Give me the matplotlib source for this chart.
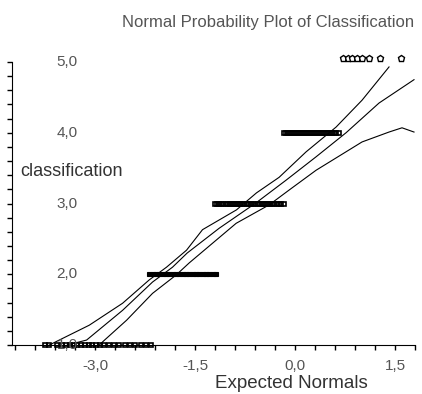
import matplotlib
matplotlib.use('Agg')
import matplotlib.pyplot as plt
import matplotlib.transforms as mtransforms

plt.rcParams['font.family'] = ['Liberation Sans', 'DejaVu Sans']

# observed values (classification) vs expected normal scores
x_level1 = [-3.76, -3.70, -3.58, -3.50, -3.44, -3.38, -3.32, -3.27, -3.22, -3.16,
            -3.10, -3.05, -2.99, -2.93, -2.87, -2.80, -2.72, -2.64, -2.56, -2.48,
            -2.40, -2.32, -2.24, -2.16]
x_level2 = [-2.19, -2.14, -2.09, -2.04, -1.99, -1.94, -1.89, -1.84, -1.79, -1.74,
            -1.69, -1.64, -1.59, -1.54, -1.49, -1.44, -1.39, -1.34, -1.29, -1.24,
            -1.19]
x_level3 = [-1.20, -1.17, -1.14, -1.11, -1.08, -1.04, -1.01, -0.98, -0.95, -0.92,
            -0.88, -0.85, -0.82, -0.79, -0.76, -0.72, -0.69, -0.66, -0.63, -0.60,
            -0.56, -0.53, -0.50, -0.47, -0.44, -0.40, -0.37, -0.34, -0.31, -0.27,
            -0.24, -0.21, -0.16]
x_level4 = [-0.17, -0.14, -0.11, -0.08, -0.05, -0.02, 0.01, 0.04, 0.07, 0.10,
            0.13, 0.16, 0.19, 0.22, 0.26, 0.29, 0.32, 0.35, 0.38, 0.41,
            0.44, 0.47, 0.50, 0.53, 0.56, 0.59, 0.62, 0.66]
x_level5 = [0.72, 0.79, 0.86, 0.93, 1.00, 1.11, 1.27, 1.59]

# fitted line and confidence band
upper_x = [-3.69, -3.09, -2.59, -2.19, -1.93, -1.63, -1.39, -0.88, -0.58, -0.24,
           0.165, 0.615, 1.005, 1.41]
upper_y = [1.00, 1.28, 1.59, 1.92, 2.10, 2.34, 2.63, 2.91, 3.15, 3.37,
           3.73, 4.08, 4.46, 4.93]
center_x = [-3.42, -3.13, -2.59, -2.14, -1.84, -1.62, -1.14, -0.585, -0.135, 0.315,
            0.765, 1.26, 1.785]
center_y = [1.00, 1.07, 1.49, 1.89, 2.10, 2.30, 2.65, 3.01, 3.33, 3.66,
            4.00, 4.42, 4.75]
lower_x = [-2.94, -2.86, -2.53, -2.14, -1.785, -1.59, -0.885, -0.39, -0.09, 0.315,
           1.005, 1.41, 1.605, 1.785]
lower_y = [1.00, 1.07, 1.35, 1.73, 1.99, 2.16, 2.72, 2.98, 3.19, 3.47,
           3.87, 4.01, 4.07, 4.01]

y_labels = ['1,0', '2,0', '3,0', '4,0', '5,0']
x_label_pos = [-3.0, -1.5, 0.0, 1.5]
x_labels = ['-3,0', '-1,5', '0,0', '1,5']

fig = plt.figure(figsize=(4.22, 3.94), dpi=100)
ax = fig.add_axes([12 / 422, 49 / 394, 403 / 422, 283 / 394])

# band lines
for xs, ys in [(upper_x, upper_y), (center_x, center_y), (lower_x, lower_y)]:
    ax.plot(xs, ys, color='black', lw=0.8)

# points (hollow squares, overlapping into dark bars)
sq = dict(marker='s', ls='none', ms=3.2, mfc='none', mec='black', mew=1.2,
          clip_on=False)
ax.plot(x_level1, [1] * len(x_level1), **sq)
ax.plot(x_level2, [2] * len(x_level2), 's', ms=2.3, mfc='black', mec='black',
        mew=0.8, clip_on=False)
ax.plot(x_level3, [3] * len(x_level3), **sq)
ax.plot(x_level4, [4] * len(x_level4), **sq)
ax.plot(x_level5, [5.05] * len(x_level5), 'p', ms=5, mfc='white', mec='black',
        mew=1, clip_on=False)

ax.set_xlim(-4.25, 1.8)
ax.set_ylim(1.0, 5.0)

ax.spines['top'].set_visible(False)
ax.spines['right'].set_visible(False)

ax.set_xticks([-4.2 + 0.3 * i for i in range(21)])
ax.set_xticklabels([])
ax.set_yticks([1.0 + 0.2 * i for i in range(21)])
ax.set_yticklabels([])
ax.tick_params(axis='both', direction='out', length=3.5, width=1)

# labels drawn as text
trans = mtransforms.blended_transform_factory(ax.transAxes, ax.transData)
for i, lab in enumerate(y_labels):
    ax.text(0.137, i + 1.0, lab, transform=trans, ha='center', va='center',
            fontsize=11, color='#555555')
trans_x = mtransforms.blended_transform_factory(ax.transData, ax.transAxes)
for pos, lab in zip(x_label_pos, x_labels):
    ax.text(pos, -0.075, lab, transform=trans_x, ha='center', va='center',
            fontsize=11, color='#555555')

ax.text(0.02, 3.45, 'classification', transform=trans, ha='left', va='center',
        fontsize=13, color='#333333')
fig.text(291 / 422, 1 - 384 / 394, 'Expected Normals', ha='center', va='center',
         fontsize=13.5, color='#333333')
fig.text(268 / 422, 1 - 22 / 394, 'Normal Probability Plot of Classification',
         ha='center', va='center', fontsize=12, color='#555555')

fig.savefig('out.png', dpi=100)
